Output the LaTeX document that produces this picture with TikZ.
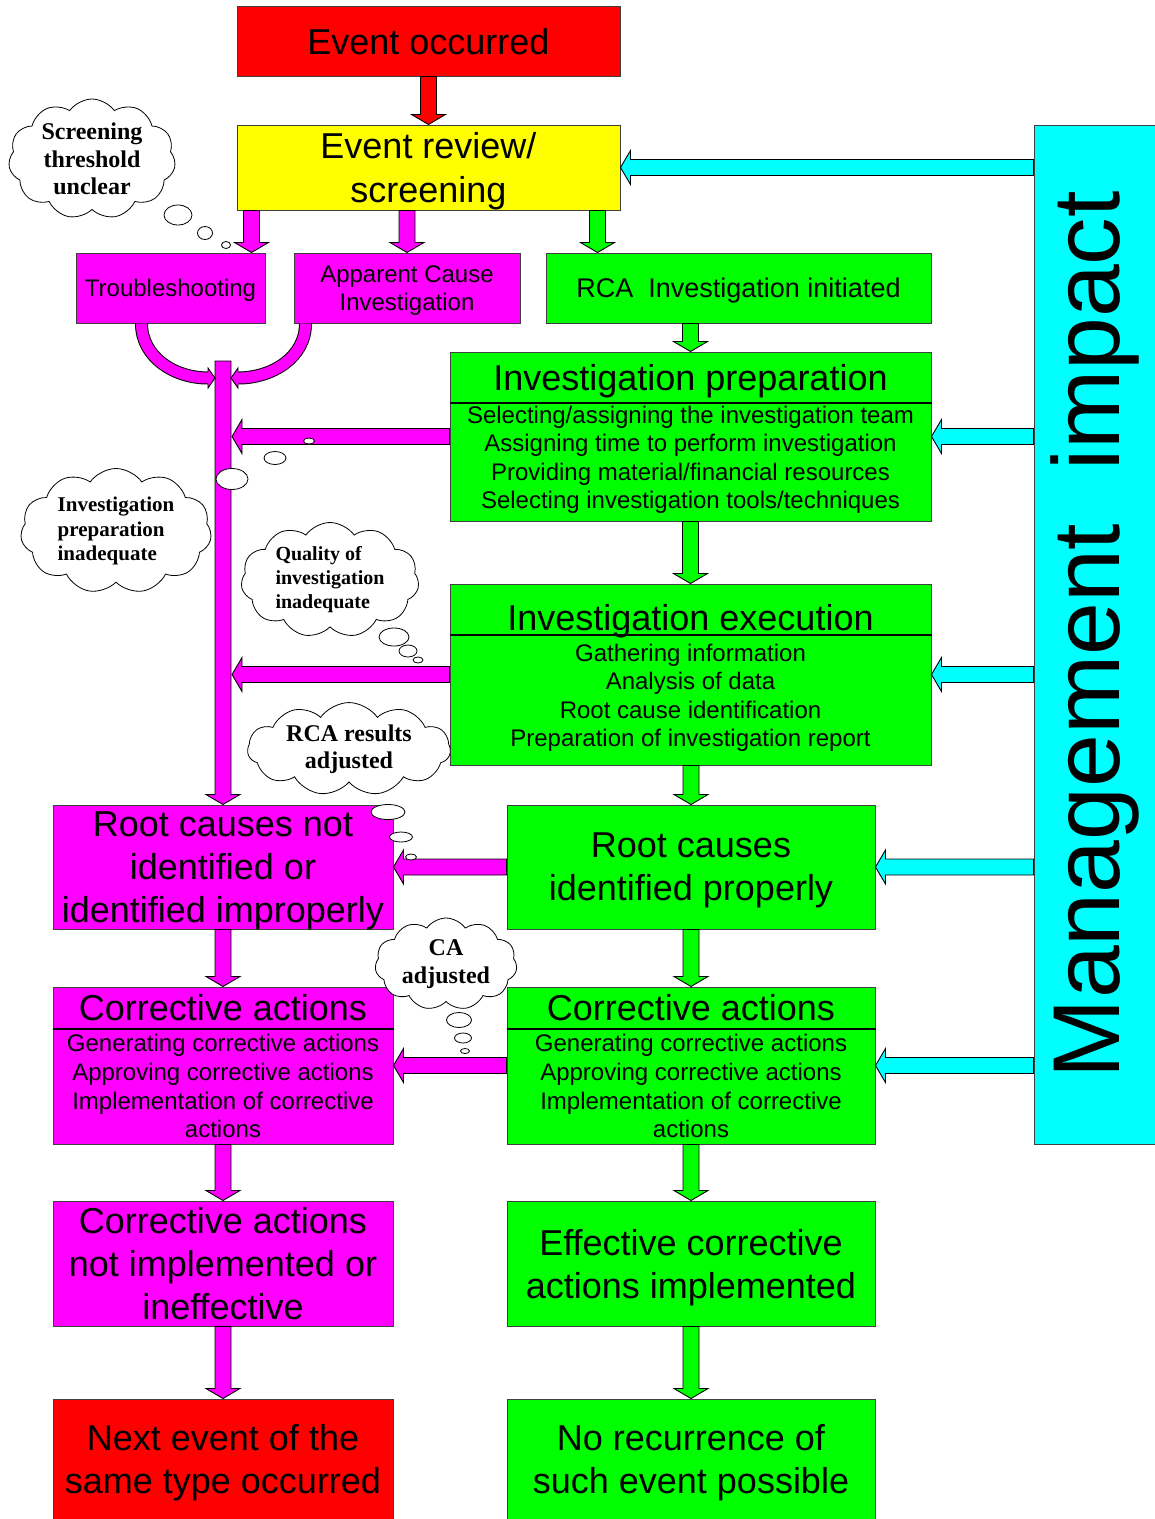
\documentclass[tikz,border=0pt]{standalone}
\usepackage{graphicx}
\usepackage{fontspec}
\setmainfont{Liberation Sans}
\newfontfamily\cloudfont{Liberation Serif}
\usetikzlibrary{calc,shapes.geometric,shapes.symbols}

\definecolor{evred}{RGB}{255,0,0}
\definecolor{evyellow}{RGB}{255,255,0}
\definecolor{evmagenta}{RGB}{255,0,255}
\definecolor{evgreen}{RGB}{0,255,0}
\definecolor{evcyan}{RGB}{0,255,255}

\newcommand{\bigtext}{\fontsize{36}{43}\selectfont}
\newcommand{\smalltext}{\fontsize{24}{28.6}\selectfont}
\newcommand{\cloudtext}{\cloudfont\bfseries\fontsize{24}{27.5}\selectfont}

\newcommand{\varr}[3]{\draw[blockarrow, fill=#1] let \p1=#2, \p2=#3 in
  (\x1-8pt,\y1) -- (\x1-8pt,\y2+10pt) -- (\x1-17pt,\y2+10pt) -- (\x1,\y2)
  -- (\x1+17pt,\y2+10pt) -- (\x1+8pt,\y2+10pt) -- (\x1+8pt,\y1) -- cycle;}
\newcommand{\harr}[3]{\draw[blockarrow, fill=#1] let \p1=#2, \p2=#3 in
  (\x1,\y1+8pt) -- (\x2+10pt,\y1+8pt) -- (\x2+10pt,\y1+17pt) -- (\x2,\y1)
  -- (\x2+10pt,\y1-17pt) -- (\x2+10pt,\y1-8pt) -- (\x1,\y1-8pt) -- cycle;}

\begin{document}
\begin{tikzpicture}[x=1pt,y=-1pt,
    box/.style={draw=black!75,line width=1pt,inner sep=0pt,align=center,font=\bigtext,text depth=0pt},
    head/.style={anchor=north,inner sep=0pt,font=\bigtext,text depth=0pt},
    items/.style={anchor=north,inner sep=0pt,align=center,font=\smalltext},
    sep/.style={line width=2pt},
    blockarrow/.style={draw=black,line width=0.9pt,line join=miter},
    cloudbox/.style={cloud,draw,fill=white,cloud puffs=11,cloud puff arc=110,cloud ignores aspect,
      inner sep=0pt,line width=0.8pt,align=center,font=\cloudtext},
    bubble/.style={ellipse,draw,fill=white,inner sep=0pt,line width=0.8pt}]
    \useasboundingbox (0,0) rectangle (1155,1519);

    \node[cloudbox,align=left,font=\cloudfont\bfseries\fontsize{21}{24.5}\selectfont,
      minimum width=191pt,minimum height=125pt] at (116,531) (cprep) {Investigation\\preparation\\inadequate};

    \node[box,fill=evred,minimum width=383pt,minimum height=70pt] at (428.5,41) (event) {Event occurred};
    \node[box,fill=evyellow,minimum width=383pt,minimum height=85pt,font=\fontsize{36}{44}\selectfont] at (428.5,167.5) (review) {Event review/\\screening};
    \node[box,fill=evmagenta,minimum width=189pt,minimum height=70pt,font=\smalltext] at (170.5,288) (trouble) {Troubleshooting};
    \node[box,fill=evmagenta,minimum width=226pt,minimum height=70pt,font=\smalltext] at (407,288) (apparent) {Apparent Cause\\Investigation};
    \node[box,fill=evgreen,minimum width=385pt,minimum height=70pt,font=\fontsize{27}{32}\selectfont] at (738.5,288) (rca) {RCA\ \ Investigation initiated};

    \node[box,fill=evgreen,minimum width=481pt,minimum height=169pt] at (690.5,436.5) (prep) {};
    \coordinate (prepsep) at ($(prep.north)+(0,51)$);
    \node[head,minimum height=51pt] at (prep.north) (prephead) {Investigation preparation};
    \draw[sep] (prep.west |- prepsep) -- (prep.east |- prepsep);
    \node[items,minimum height=114pt] at (prepsep) (prepitems) {Selecting/assigning the investigation team\\Assigning time to perform investigation\\Providing material/financial resources\\Selecting investigation tools/techniques};

    \node[box,fill=evgreen,minimum width=481pt,minimum height=181pt] at (690.5,674.5) (exec) {};
    \coordinate (execsep) at ($(exec.north)+(0,51)$);
    \node[head,minimum height=51pt,yshift=-8pt] at (exec.north) (exechead) {Investigation execution};
    \draw[sep] (exec.west |- execsep) -- (exec.east |- execsep);
    \node[items,minimum height=126pt] at (execsep) (execitems) {Gathering information\\Analysis of data\\Root cause identification\\Preparation of investigation report};

    \node[box,fill=evgreen,minimum width=368pt,minimum height=124pt] at (691,867) (rcp) {Root causes\\identified properly};

    \node[box,fill=evgreen,minimum width=368pt,minimum height=157pt] at (691,1065.5) (cag) {};
    \coordinate (cagsep) at ($(cag.north)+(0,42)$);
    \node[head,minimum height=42pt] at (cag.north) (caghead) {Corrective actions};
    \draw[sep] (cag.west |- cagsep) -- (cag.east |- cagsep);
    \node[items,minimum height=115pt] at (cagsep) (cagitems) {Generating corrective actions\\Approving corrective actions\\Implementation of corrective\\actions};

    \node[box,fill=evgreen,minimum width=368pt,minimum height=125pt] at (691,1263.5) (eff) {Effective corrective\\actions implemented};
    \node[box,fill=evgreen,minimum width=368pt,minimum height=120pt] at (691,1459) (norec) {No recurrence of\\such event possible};

    \node[box,fill=evmagenta,minimum width=340pt,minimum height=124pt] at (223,867) (rcn) {Root causes not\\identified or\\identified improperly};

    \node[box,fill=evmagenta,minimum width=340pt,minimum height=157pt] at (223,1065.5) (cam) {};
    \coordinate (camsep) at ($(cam.north)+(0,42)$);
    \node[head,minimum height=42pt] at (cam.north) (camhead) {Corrective actions};
    \draw[sep] (cam.west |- camsep) -- (cam.east |- camsep);
    \node[items,minimum height=115pt] at (camsep) (camitems) {Generating corrective actions\\Approving corrective actions\\Implementation of corrective\\actions};

    \node[box,fill=evmagenta,minimum width=340pt,minimum height=125pt] at (223,1263.5) (cni) {Corrective actions\\not implemented or\\ineffective};
    \node[box,fill=evred,minimum width=340pt,minimum height=120pt] at (223,1459) (next) {Next event of the\\same type occurred};

    \node[box,fill=evcyan,minimum width=121pt,minimum height=1019pt,font=\fontsize{95}{100}\selectfont] at (1094.5,634.5) (mgmt) {\rotatebox{90}{Management\ \ impact}};

    \coordinate (trunktop) at (223,361);
    \coordinate (jointL) at (215,378);
    \coordinate (jointR) at (231,378);

    \varr{evred}{(event.south)}{(review.north)}
    \varr{evmagenta}{($(review.south west)+(15,0)$)}{(trouble.north)}
    \varr{evmagenta}{(review.south -| apparent.north)}{(apparent.north)}
    \varr{evgreen}{($(review.south east)+(-23,0)$)}{(rca.north)}
    \varr{evgreen}{(rca.south -| prep.north)}{(prep.north)}
    \varr{evgreen}{(prep.south)}{(exec.north)}
    \varr{evgreen}{(exec.south -| rcp.north)}{(rcp.north)}
    \varr{evgreen}{(rcp.south)}{(cag.north)}
    \varr{evgreen}{(cag.south)}{(eff.north)}
    \varr{evgreen}{(eff.south)}{(norec.north)}
    \varr{evmagenta}{(trunktop)}{(rcn.north)}
    \varr{evmagenta}{(rcn.south)}{(cam.north)}
    \varr{evmagenta}{(cam.south)}{(cni.north)}
    \varr{evmagenta}{(cni.south)}{(next.north)}

    \harr{evmagenta}{(prep.west)}{($(trunktop)+(9,0)$)}
    \harr{evmagenta}{(exec.west)}{($(trunktop)+(9,0)$)}
    \harr{evmagenta}{(rcp.west)}{(rcn.east)}
    \harr{evmagenta}{(cag.west)}{(cam.east)}

    \harr{evcyan}{(mgmt.west |- review.east)}{(review.east)}
    \harr{evcyan}{(mgmt.west |- prep.east)}{(prep.east)}
    \harr{evcyan}{(mgmt.west |- exec.east)}{(exec.east)}
    \harr{evcyan}{(mgmt.west |- rcp.east)}{(rcp.east)}
    \harr{evcyan}{(mgmt.west |- cag.east)}{(cag.east)}

    \draw[double=evmagenta,double distance=11pt,line width=1pt]
      ($(trouble.south west)+(66,0)$) to[out=-90,in=180] ($(jointL)+(-7,0)$);
    \draw[double=evmagenta,double distance=11pt,line width=1pt]
      ($(apparent.south west)+(12,0)$) to[out=-90,in=0] ($(jointR)+(7,0)$);
    \fill[evmagenta] ($(jointL)+(-7,-10)$) -- (jointL) -- ($(jointL)+(-7,10)$) -- cycle;
    \fill[evmagenta] ($(jointR)+(7,-10)$) -- (jointR) -- ($(jointR)+(7,10)$) -- cycle;
    \draw[line width=0.9pt]
      ($(jointL)+(-7,-6.5)$) -- ($(jointL)+(-7,-10)$) -- (jointL) -- ($(jointL)+(-7,10)$) -- ($(jointL)+(-7,6.5)$)
      ($(jointR)+(7,-6.5)$) -- ($(jointR)+(7,-10)$) -- (jointR) -- ($(jointR)+(7,10)$) -- ($(jointR)+(7,6.5)$);

    \node[cloudbox,minimum width=167pt,minimum height=120pt] at (92,159) (cscreen) {Screening\\threshold\\unclear};
    \node[cloudbox,align=left,font=\cloudfont\bfseries\fontsize{20}{24}\selectfont,
      minimum width=178pt,minimum height=115pt] at (330,580) (cquality) {Quality of\\investigation\\inadequate};
    \node[cloudbox,minimum width=203pt,minimum height=88pt] at (349,749) (cresults) {RCA results\\adjusted};
    \node[cloudbox,minimum width=142pt,minimum height=92pt] at (446,964) (cca) {CA\\adjusted};

    \node[bubble,minimum width=28pt,minimum height=20pt] at (178,215) (cs1) {};
    \node[bubble,minimum width=15pt,minimum height=13pt] at (205,233) (cs2) {};
    \node[bubble,minimum width=9pt,minimum height=7pt] at (226,245) (cs3) {};
    \node[bubble,minimum width=32pt,minimum height=21pt] at (232,479) (cp1) {};
    \node[bubble,minimum width=22pt,minimum height=13pt] at (275,458) (cp2) {};
    \node[bubble,minimum width=11pt,minimum height=6pt] at (309,441) (cp3) {};
    \node[bubble,minimum width=30pt,minimum height=18pt] at (394,637) (cq1) {};
    \node[bubble,minimum width=18pt,minimum height=12pt] at (408,651) (cq2) {};
    \node[bubble,minimum width=10pt,minimum height=6pt] at (418,660) (cq3) {};
    \node[bubble,minimum width=34pt,minimum height=15pt] at (388,812) (cr1) {};
    \node[bubble,minimum width=23pt,minimum height=10pt] at (401,837) (cr2) {};
    \node[bubble,minimum width=11pt,minimum height=6pt] at (411,857) (cr3) {};
    \node[bubble,minimum width=25pt,minimum height=15pt] at (459,1020) (cc1) {};
    \node[bubble,minimum width=17pt,minimum height=10pt] at (463,1038) (cc2) {};
    \node[bubble,minimum width=9pt,minimum height=5pt] at (465,1051) (cc3) {};
  \end{tikzpicture}
\end{document}
